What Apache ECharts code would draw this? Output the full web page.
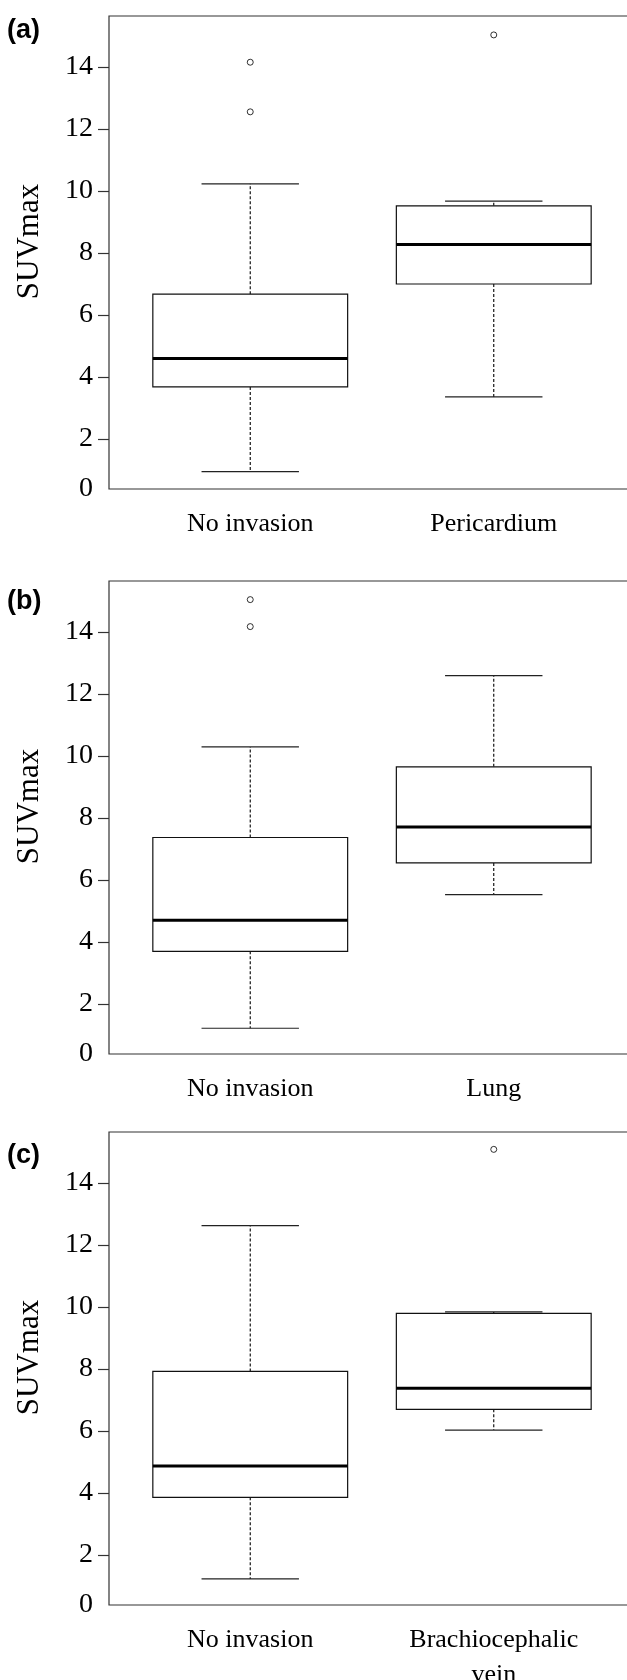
<!DOCTYPE html>
<html>
<head>
<meta charset="utf-8">
<script src="https://cdn.jsdelivr.net/npm/echarts@6/dist/echarts.min.js"></script>
<style>
  html, body { margin: 0; padding: 0; background: #fff; }
  #chart { width: 627px; height: 1680px; }
</style>
</head>
<body>
<div id="chart"></div>
<script>
  const panelTags = ['(a)', '(b)', '(c)'];
  const groupsA = ['No invasion', 'Pericardium'];
  const groupsB = ['No invasion', 'Lung'];
  const groupsC = ['No invasion', 'Brachiocephalic\nvein'];

  // [lower whisker, Q1, median, Q3, upper whisker]
  const boxesA = [[0.95, 3.68, 4.60, 6.67, 10.23], [3.36, 7.00, 8.27, 9.52, 9.67]];
  const boxesB = [[1.22, 3.70, 4.70, 7.37, 10.29], [5.53, 6.55, 7.71, 9.65, 12.59]];
  const boxesC = [[1.23, 3.86, 4.87, 7.92, 12.62], [6.03, 6.70, 7.38, 9.79, 9.84]];

  // [group position, value]
  const outliersA = [[1, 12.55], [1, 14.15], [2, 15.03]];
  const outliersB = [[1, 14.17], [1, 15.04]];
  const outliersC = [[2, 15.08]];

  const yTicks = [2, 4, 6, 8, 10, 12, 14];

  // axis range of the original plot (the "0" label sits on the lower edge)
  const Y_MIN = 0.39;
  const Y_MAX = 15.64;
  const BOX_WIDTH = 0.8;
  const CAP_WIDTH = 0.4;

  const panelTops = [16, 581, 1132];
  const tagTops = [17, 588, 1142];

  const serif = '"Liberation Serif", "Times New Roman", serif';

  function renderBox(params, api) {
    const x = api.value(0);
    const lo = api.coord([x, api.value(1)]);
    const q1 = api.coord([x, api.value(2)]);
    const med = api.coord([x, api.value(3)]);
    const q3 = api.coord([x, api.value(4)]);
    const hi = api.coord([x, api.value(5)]);
    const boxW = api.size([BOX_WIDTH, 0])[0];
    const capW = api.size([CAP_WIDTH, 0])[0];
    const cx = lo[0];
    const dashed = { stroke: '#000', lineWidth: 1.1, lineDash: [3, 2] };
    const solid = { stroke: '#222', lineWidth: 1.2 };
    return {
      type: 'group',
      children: [
        { type: 'line', shape: { x1: cx, y1: q3[1], x2: cx, y2: hi[1] }, style: dashed },
        { type: 'line', shape: { x1: cx, y1: q1[1], x2: cx, y2: lo[1] }, style: dashed },
        { type: 'line', shape: { x1: cx - capW / 2, y1: hi[1], x2: cx + capW / 2, y2: hi[1] }, style: solid },
        { type: 'line', shape: { x1: cx - capW / 2, y1: lo[1], x2: cx + capW / 2, y2: lo[1] }, style: solid },
        {
          type: 'rect',
          shape: { x: cx - boxW / 2, y: q3[1], width: boxW, height: q1[1] - q3[1] },
          style: { fill: '#fff', stroke: '#111', lineWidth: 1.2 }
        },
        { type: 'line', shape: { x1: cx - boxW / 2, y1: med[1], x2: cx + boxW / 2, y2: med[1] }, style: { stroke: '#000', lineWidth: 3 } }
      ]
    };
  }

  const panels = [
    { groups: groupsA, boxes: boxesA, outliers: outliersA },
    { groups: groupsB, boxes: boxesB, outliers: outliersB },
    { groups: groupsC, boxes: boxesC, outliers: outliersC }
  ];

  const chart = echarts.init(document.getElementById('chart'), null, { renderer: 'canvas' });

  const option = {
    backgroundColor: '#fff',
    animation: false,
    title: panelTags.map((t, i) => ({
      text: t,
      left: 7,
      top: tagTops[i],
      padding: 0,
      textStyle: { fontFamily: '"Liberation Sans", Arial, sans-serif', fontWeight: 'bold', fontSize: 27, color: '#000' }
    })),
    grid: panels.map((p, i) => ({
      left: 109,
      width: 526,
      top: panelTops[i],
      height: 473,
      outerBoundsMode: 'none',
      containLabel: false,
      show: true,
      borderColor: '#333',
      borderWidth: 1.2,
      backgroundColor: 'transparent'
    })),
    xAxis: panels.map((p, i) => ({
      type: 'value',
      gridIndex: i,
      min: 0.42,
      max: 2.58,
      axisLine: { show: false },
      axisTick: { show: false },
      splitLine: { show: false },
      axisLabel: {
        customValues: [1, 2],
        formatter: v => p.groups[Math.round(v) - 1],
        margin: 18,
        fontFamily: serif,
        fontSize: 26,
        lineHeight: 35,
        color: '#000'
      }
    })),
    yAxis: panels.map((p, i) => ({
      type: 'value',
      gridIndex: i,
      min: Y_MIN,
      max: Y_MAX,
      name: 'SUVmax',
      nameLocation: 'middle',
      nameGap: 64,
      nameTextStyle: { fontFamily: serif, fontSize: 31, color: '#000', padding: [0, 0, 0, 22] },
      axisLine: { show: false },
      splitLine: { show: false },
      axisTick: { show: true, customValues: yTicks, length: 11, lineStyle: { color: '#333', width: 1.2 } },
      axisLabel: {
        customValues: [Y_MIN].concat(yTicks),
        formatter: v => (v === Y_MIN ? '0' : String(v)),
        margin: 16,
        fontFamily: serif,
        fontSize: 28,
        color: '#000'
      }
    })),
    series: panels.flatMap((p, i) => [
      {
        type: 'custom',
        xAxisIndex: i,
        yAxisIndex: i,
        renderItem: renderBox,
        encode: { x: 0, y: [1, 2, 3, 4, 5] },
        data: p.boxes.map((b, k) => [k + 1].concat(b))
      },
      {
        type: 'scatter',
        xAxisIndex: i,
        yAxisIndex: i,
        symbol: 'circle',
        symbolSize: 6,
        itemStyle: { color: '#fff', borderColor: '#000', borderWidth: 1 },
        data: p.outliers
      }
    ])
  };

  chart.setOption(option);
</script>
</body>
</html>
